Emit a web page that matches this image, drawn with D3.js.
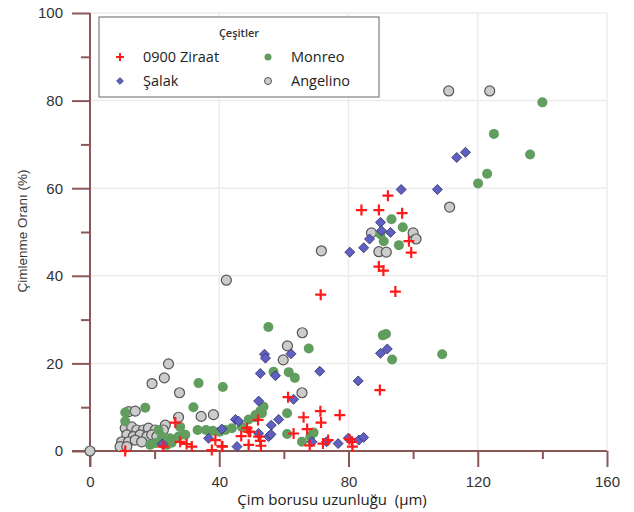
<!DOCTYPE html>
<html>
<head>
<meta charset="utf-8">
<script src="https://cdn.jsdelivr.net/npm/d3@7"></script>
<style>
  body { margin: 0; background: #fff; }
  svg { font-family: "Liberation Sans", Arial, sans-serif; }
</style>
</head>
<body>
<div id="chart-area"></div>
<script>
// data: [tube length (um), germination (%)]
var ziraat = [[92.2,58.3],[84,55],[89.4,55],[96.6,54.3],[98.7,47.9],[99.4,45.3],[89.4,42.1],[90.8,41.2],
  [71.4,35.7],[94.5,36.4],[89.7,13.9],[61.3,12.3],[71.3,9.1],[66.1,7.7],[71.5,6.5],[77.3,8.2],[67.2,5],
  [63,4],[52,7.1],[49.6,4.4],[52.7,2.3],[52.9,1.2],[68,1.3],[72.1,1.7],[73.7,2.5],[81.1,2.1],[80.3,2.7],
  [26.4,6.5],[48.6,5.2],[49.1,4.4],[46.8,3.4],[38.8,2.5],[40.8,1.1],[31.5,1],[27.9,2.1],[49.1,1.4],
  [52.2,3.3],[10.9,0],[22.7,1],[29.9,1.6],[37.7,0.2],[41,1],[81.2,1]];

var monreo = [[140,79.6],[125,72.4],[136.2,67.7],[122.9,63.3],[120.1,61.1],[93.3,52.9],[96.8,51.1],
  [89.9,49.5],[90.9,47.9],[95.6,47],[91.6,26.7],[90.6,26.4],[93.5,20.9],[109,22.1],[67.7,23.4],
  [55.2,28.3],[56.8,18.1],[61.5,18],[63.4,16.7],[53.7,10.1],[52.7,9.1],[51.2,8.2],[61,8.6],[69.2,4.2],
  [68.2,3.3],[61,3.9],[65.6,2.1],[33.6,15.5],[41.1,14.6],[17.1,9.9],[10.9,8.8],[32,10],[10.9,6.8],
  [27.9,5.5],[33.3,4.8],[35.9,4.8],[38,4.6],[40.1,4.4],[21.2,4.8],[22.2,3.3],[24.8,2.9],[27.4,3.3],
  [29.5,3.7],[18.6,1.4],[20.2,1.8],[23.8,1.4],[25.3,1.9],[41.9,4.8],[43.9,5.2],[47,5.5],[49.1,7.2],
  [51.2,7.7],[53.2,8.6]];

var salak = [[116.2,68.2],[113.5,67],[96.3,59.7],[107.5,59.7],[89.9,52.2],[90.2,50.3],[93,49.9],
  [86.5,48.4],[84.7,46.4],[80.4,45.4],[54,22.1],[54.3,21.2],[62.2,22.2],[52.7,17.7],[57.4,17.2],
  [71.1,18.2],[83,16],[89.9,22.3],[92,23.3],[52.2,11.4],[63,11.8],[58.4,7.2],[56.1,5.9],[52.2,4],
  [55.3,3.3],[56,3.8],[68.7,2.1],[73.2,2.1],[76.8,1.7],[79.9,2.9],[83.2,2.5],[84.7,3.1],[45,7.2],
  [46,6.8],[40.8,5],[36.7,2.9],[45.5,1],[22.4,1.6]];

var angelino = [[111,82.2],[123.7,82.2],[111.3,55.7],[71.6,45.7],[42.2,39],[87.1,49.8],[100,49.8],
  [100.9,48.4],[89.4,45.5],[91.7,45.4],[65.7,27],[61.1,24],[59.8,20.8],[65.6,13.3],[24.3,19.9],
  [23,16.7],[19.2,15.4],[27.7,13.3],[12,9],[14,9.1],[27.4,7.7],[34.4,7.9],[38.2,8.3],[23.3,5.9],
  [10.9,5.2],[12.9,5.5],[14.5,4.8],[16.5,4.8],[18.1,5.2],[20.2,4.8],[11.4,3.7],[13.4,3.3],[15.5,3.7],
  [17.6,3.3],[19.1,3.7],[9.8,2.1],[11.9,2.1],[14,2.5],[16,2.1],[9.3,1],[11.4,1],[22.7,4.8],[20.7,3.3],
  [0,0]];

var xTicks = [0, 40, 80, 120, 160];
var yTicks = [0, 20, 40, 60, 80, 100];

var svg = d3.select("#chart-area")
    .append("svg")
        .attr("width", 634)
        .attr("height", 512);

var xScale = d3.scaleLinear().domain([0, 160]).range([90, 607]);
var yScale = d3.scaleLinear().domain([0, 100]).range([451, 13]);

var axisColor = "#8a5656";

// grid
var grid = svg.append("g").attr("class", "grid");
grid.selectAll("line.h")
    .data(yTicks.slice(1))
    .enter().append("line")
        .attr("x1", xScale(0)).attr("x2", xScale(160))
        .attr("y1", function(d){ return yScale(d); })
        .attr("y2", function(d){ return yScale(d); })
        .attr("stroke", "#ececec").attr("stroke-width", 1.5);
grid.selectAll("line.v")
    .data(xTicks.slice(1))
    .enter().append("line")
        .attr("y1", yScale(0)).attr("y2", yScale(100))
        .attr("x1", function(d){ return xScale(d); })
        .attr("x2", function(d){ return xScale(d); })
        .attr("stroke", "#ececec").attr("stroke-width", 1.5);

// minor ticks
svg.append("g")
    .attr("class", "y minor")
    .attr("transform", "translate(" + xScale(0) + ",0)")
    .call(d3.axisLeft(yScale).tickValues([10,30,50,70,90]).tickSize(9).tickFormat(""));
svg.append("g")
    .attr("class", "x minor")
    .attr("transform", "translate(0," + yScale(0) + ")")
    .call(d3.axisBottom(xScale).tickValues([20,60,100,140]).tickSize(8).tickFormat(""));

// major axes
svg.append("g")
    .attr("class", "y axis")
    .attr("transform", "translate(" + xScale(0) + ",0)")
    .call(d3.axisLeft(yScale).tickValues(yTicks).tickSize(18).tickPadding(9).tickSizeOuter(0));
svg.append("g")
    .attr("class", "x axis")
    .attr("transform", "translate(0," + yScale(0) + ")")
    .call(d3.axisBottom(xScale).tickValues(xTicks).tickSize(16).tickPadding(9).tickSizeOuter(0));

svg.selectAll(".axis path, .minor path").remove();
svg.selectAll(".axis line, .minor line").attr("stroke", axisColor).attr("stroke-width", 2);
svg.selectAll(".axis text").attr("font-size", "15px").attr("fill", "#333");

// main axis lines
svg.append("line")
    .attr("x1", xScale(0)).attr("x2", xScale(0))
    .attr("y1", yScale(100)).attr("y2", yScale(0) + 16)
    .attr("stroke", axisColor).attr("stroke-width", 2);
svg.append("line")
    .attr("x1", xScale(0) - 18).attr("x2", xScale(160))
    .attr("y1", yScale(0)).attr("y2", yScale(0))
    .attr("stroke", axisColor).attr("stroke-width", 2);

// axis titles
svg.append("text")
    .attr("x", 332)
    .attr("y", 505)
    .attr("font-family", "'Open Sans', sans-serif")
    .attr("font-size", "15px")
    .attr("text-anchor", "middle")
    .attr("fill", "#222")
    .attr("xml:space", "preserve")
    .text("Çim borusu uzunluğu  (μm)");

svg.append("text")
    .attr("transform", "translate(27,231) rotate(-90)")
    .attr("font-size", "13.5px")
    .attr("text-anchor", "middle")
    .attr("fill", "#333")
    .text("Çimlenme Oranı (%)");

// marks
var cross = d3.symbol().type(d3.symbolCross).size(70);
var diamond = d3.symbol().type(d3.symbolSquare).size(50);

var gAng = svg.append("g");
gAng.selectAll("circle")
    .data(angelino)
    .enter().append("circle")
        .attr("cx", function(d){ return xScale(d[0]); })
        .attr("cy", function(d){ return yScale(d[1]); })
        .attr("r", 5)
        .attr("fill", "#cccccc")
        .attr("stroke", "#555")
        .attr("stroke-width", 1.2);

var gMon = svg.append("g");
gMon.selectAll("circle")
    .data(monreo)
    .enter().append("circle")
        .attr("cx", function(d){ return xScale(d[0]); })
        .attr("cy", function(d){ return yScale(d[1]); })
        .attr("r", 5)
        .attr("fill", "#619d5f");

var gSal = svg.append("g");
gSal.selectAll("path")
    .data(salak)
    .enter().append("path")
        .attr("d", diamond)
        .attr("transform", function(d){
            return "translate(" + xScale(d[0]) + "," + yScale(d[1]) + ") rotate(45)";
        })
        .attr("fill", "#5f5fc4")
        .attr("stroke", "#333366")
        .attr("stroke-width", 0.8);

var gZir = svg.append("g");
gZir.selectAll("path")
    .data(ziraat)
    .enter().append("path")
        .attr("d", function(){
            return "M-5.5,0H5.5M0,-5.5V5.5";
        })
        .attr("transform", function(d){
            return "translate(" + xScale(d[0]) + "," + yScale(d[1]) + ")";
        })
        .attr("stroke", "#ff1a1a")
        .attr("stroke-width", 2.2)
        .attr("fill", "none");

// legend
var legend = svg.append("g").attr("class", "legend");
legend.append("rect")
    .attr("x", 99).attr("y", 17)
    .attr("width", 280).attr("height", 80)
    .attr("fill", "#fff")
    .attr("stroke", "#666")
    .attr("stroke-width", 1);
legend.append("text")
    .attr("x", 239).attr("y", 37)
    .attr("text-anchor", "middle")
    .attr("font-family", "'Open Sans', sans-serif")
    .attr("font-size", "11px")
    .attr("font-weight", 600)
    .attr("fill", "#333")
    .text("Çeşitler");

var items = [
    { name: "0900 Ziraat", x: 120, y: 57, kind: "cross" },
    { name: "Monreo", x: 268, y: 57, kind: "green" },
    { name: "Şalak", x: 120, y: 81, kind: "diamond" },
    { name: "Angelino", x: 268, y: 81, kind: "gray" }
];
items.forEach(function(it){
    var m = legend.append("g").attr("transform", "translate(" + it.x + "," + it.y + ")");
    if (it.kind == "cross") {
        m.append("path").attr("d", "M-4,0H4M0,-4V4").attr("stroke", "#ff1a1a").attr("stroke-width", 2);
    } else if (it.kind == "green") {
        m.append("circle").attr("r", 3.5).attr("fill", "#619d5f");
    } else if (it.kind == "diamond") {
        m.append("path").attr("d", d3.symbol().type(d3.symbolSquare).size(24))
            .attr("transform", "rotate(45)")
            .attr("fill", "#5f5fc4").attr("stroke", "#333366").attr("stroke-width", 0.6);
    } else {
        m.append("circle").attr("r", 3.5).attr("fill", "#ccc").attr("stroke", "#555");
    }
    legend.append("text")
        .attr("x", it.x + 23).attr("y", it.y + 5)
        .attr("font-family", "'Open Sans', sans-serif")
        .attr("font-size", "14.5px")
        .attr("fill", "#222")
        .text(it.name);
});
</script>
</body>
</html>
